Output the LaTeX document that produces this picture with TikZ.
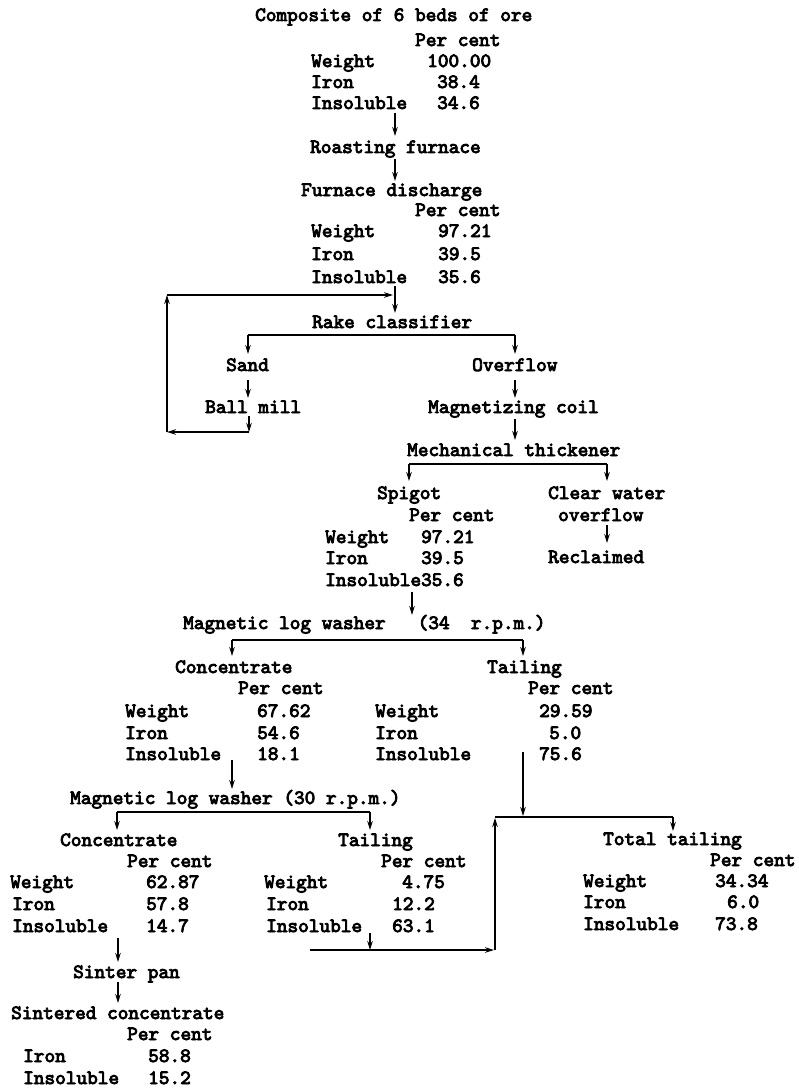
\documentclass[tikz,border=0pt]{standalone}
\usepackage{fontspec}
\setmonofont{lmmono10-regular.otf}[FakeBold=4]
\usetikzlibrary{arrows.meta}
\begin{document}
\begin{tikzpicture}[x=1pt,y=-1pt,
  t/.style={anchor=base west, inner sep=0pt, font=\ttfamily\fontsize{20.3}{22}\selectfont},
  ln/.style={line width=1.8pt},
  arr/.style={line width=1.8pt, -{Stealth[length=9pt,width=5.5pt]}}]
\useasboundingbox (0,0) rectangle (798,1089);
% helper: text at (x, centre-y); baseline = centre + 6
\newcommand{\tx}[4]{\node[t] (#1) at (#2,#3+6) {#4};}
% ---- top block
\tx{comp}{255}{15}{Composite of 6 beds of ore}
\tx{pcA}{415}{40}{Per cent}
\tx{wA}{311}{61}{Weight}\tx{wAv}{427}{61}{100.00}
\tx{iA}{311}{82}{Iron}\tx{iAv}{437}{82}{38.4}
\tx{sA}{311}{103}{Insoluble}\tx{sAv}{437}{103}{34.6}
\tx{roast}{310}{147}{Roasting furnace}
\tx{fd}{301}{190}{Furnace discharge}
\tx{pcB}{415}{210}{Per cent}
\tx{wB}{311}{231}{Weight}\tx{wBv}{438}{231}{97.21}
\tx{iB}{311}{254}{Iron}\tx{iBv}{438}{254}{39.5}
\tx{sB}{311}{277}{Insoluble}\tx{sBv}{438}{277}{35.6}
\tx{rake}{312}{322}{Rake classifier}
\tx{sand}{226}{365}{Sand}
\tx{ovf}{472}{365}{Overflow}
\tx{ball}{205}{407}{Ball mill}
\tx{coil}{428}{407}{Magnetizing coil}
\tx{mech}{407}{450}{Mechanical thickener}
\tx{spig}{377}{493}{Spigot}
\tx{clear}{548}{493}{Clear water}
\tx{pcC}{409}{515}{Per cent}
\tx{ovf2}{558}{515}{overflow}
\tx{wC}{325}{537}{Weight}\tx{wCv}{421}{537}{97.21}
\tx{iC}{325}{558}{Iron}\tx{iCv}{421}{558}{39.5}
\tx{sC}{325}{580}{Insoluble35.6}
\tx{recl}{548}{557}{Reclaimed}
\tx{mlwA}{183}{623}{Magnetic log washer\ \ \ (34\ \ r.p.m.)}
\tx{concA}{175}{667}{Concentrate}
\tx{tailA}{487}{667}{Tailing}
\tx{pcD}{238}{688}{Per cent}
\tx{pcE}{528}{688}{Per cent}
\tx{wD}{125}{711}{Weight}\tx{wDv}{257}{711}{67.62}
\tx{iD}{125}{733}{Iron}\tx{iDv}{257}{733}{54.6}
\tx{sD}{125}{754}{Insoluble}\tx{sDv}{257}{754}{18.1}
\tx{wE}{375}{711}{Weight}\tx{wEv}{539}{711}{29.59}
\tx{iE}{375}{733}{Iron}\tx{iEv}{549}{733}{5.0}
\tx{sE}{375}{754}{Insoluble}\tx{sEv}{539}{754}{75.6}
\tx{mlwB}{70}{798}{Magnetic log washer (30 r.p.m.)}
\tx{concB}{60}{840}{Concentrate}
\tx{tailB}{338}{840}{Tailing}
\tx{pcF}{127}{861}{Per cent}
\tx{pcG}{381}{861}{Per cent}
\tx{wF}{10}{882}{Weight}\tx{wFv}{146}{882}{62.87}
\tx{iF}{12}{904}{Iron}\tx{iFv}{146}{904}{57.8}
\tx{sF}{12}{926}{Insoluble}\tx{sFv}{146}{926}{14.7}
\tx{wG}{264}{882}{Weight}\tx{wGv}{402}{882}{4.75}
\tx{iG}{266}{904}{Iron}\tx{iGv}{392}{904}{12.2}
\tx{sG}{266}{926}{Insoluble}\tx{sGv}{392}{926}{63.1}
\tx{tot}{603}{839}{Total tailing}
\tx{pcH}{710}{860}{Per cent}
\tx{wH}{583}{881}{Weight}\tx{wHv}{715}{881}{34.34}
\tx{iH}{583}{902}{Iron}\tx{iHv}{727}{902}{6.0}
\tx{sH}{583}{924}{Insoluble}\tx{sHv}{715}{924}{73.8}
\tx{sint}{73}{972}{Sinter pan}
\tx{sintc}{11}{1013}{Sintered concentrate}
\tx{pcI}{127}{1034}{Per cent}
\tx{iI}{23}{1056}{Iron}\tx{iIv}{148}{1056}{58.8}
\tx{sI}{23}{1078}{Insoluble}\tx{sIv}{148}{1078}{15.2}
% ---- junction coordinates
\coordinate (a1) at (395,113); \coordinate (a2) at (395,136);
\coordinate (a3) at (395,159); \coordinate (a4) at (395,181);
\coordinate (fbTop) at (395,286); \coordinate (fbIn) at (395,313);
\coordinate (fbL1) at (167,295); \coordinate (fbR1) at (393,295);
\coordinate (rkL) at (248,335); \coordinate (rkR) at (515,335);
\coordinate (sandT) at (248,354); \coordinate (ovfT) at (515,354);
\coordinate (sb1) at (248,380); \coordinate (sb2) at (248,398);
\coordinate (ob1) at (515,380); \coordinate (ob2) at (515,398);
\coordinate (bm1) at (249,416); \coordinate (bm2) at (249,432);
\coordinate (fbL2) at (167,432);
\coordinate (oc1) at (515,419); \coordinate (oc2) at (515,440);
\coordinate (mtL) at (409,464); \coordinate (mtR) at (607,464);
\coordinate (spT) at (409,481); \coordinate (clT) at (607,481);
\coordinate (cw1) at (607,525); \coordinate (cw2) at (607,543);
\coordinate (sp1) at (412,592); \coordinate (sp2) at (412,615);
\coordinate (mwL) at (232,640); \coordinate (mwR) at (523,640);
\coordinate (caT) at (232,656); \coordinate (taT) at (523,656);
\coordinate (ca1) at (232,760); \coordinate (ca2) at (232,789);
\coordinate (ta1) at (523,752); \coordinate (ta2) at (523,816);
\coordinate (m2L) at (117,812); \coordinate (m2R) at (370,812);
\coordinate (cbT) at (117,830); \coordinate (tbT) at (370,830);
\coordinate (tt1) at (495,817); \coordinate (tt2) at (673,817);
\coordinate (ttT) at (673,831);
\coordinate (tb1) at (370,933); \coordinate (tb2) at (370,950);
\coordinate (lwL) at (310,950); \coordinate (lwR) at (494,950);
\coordinate (lwC) at (495,950); \coordinate (upT) at (495,818);
\coordinate (cb1) at (118,938); \coordinate (cb2) at (118,962);
\coordinate (sp3) at (118,982); \coordinate (sp4) at (118,1003);
% ---- connectors
\draw[arr] (a1) -- (a2);
\draw[arr] (a3) -- (a4);
\draw[arr] (fbTop) -- (fbIn);
\draw[arr] (fbL1) -- (fbR1);
\draw[ln] (rkL) -- (rkR);
\draw[arr] (rkL) -- (sandT);
\draw[arr] (rkR) -- (ovfT);
\draw[arr] (sb1) -- (sb2);
\draw[arr] (ob1) -- (ob2);
\draw[arr] (bm1) -- (bm2);
\draw[arr] (bm2) -- (fbL2);
\draw[arr] (fbL2) -- (fbL1);
\draw[arr] (oc1) -- (oc2);
\draw[ln] (mtL) -- (mtR);
\draw[arr] (mtL) -- (spT);
\draw[arr] (mtR) -- (clT);
\draw[arr] (cw1) -- (cw2);
\draw[arr] (sp1) -- (sp2);
\draw[ln] (mwL) -- (mwR);
\draw[arr] (mwL) -- (caT);
\draw[arr] (mwR) -- (taT);
\draw[arr] (ca1) -- (ca2);
\draw[arr] (ta1) -- (ta2);
\draw[ln] (m2L) -- (m2R);
\draw[arr] (m2L) -- (cbT);
\draw[arr] (m2R) -- (tbT);
\draw[ln] (tt1) -- (tt2);
\draw[arr] (tt2) -- (ttT);
\draw[arr] (tb1) -- (tb2);
\draw[arr] (lwL) -- (lwR);
\draw[arr] (lwC) -- (upT);
\draw[arr] (cb1) -- (cb2);
\draw[arr] (sp3) -- (sp4);
\end{tikzpicture}
\end{document}
